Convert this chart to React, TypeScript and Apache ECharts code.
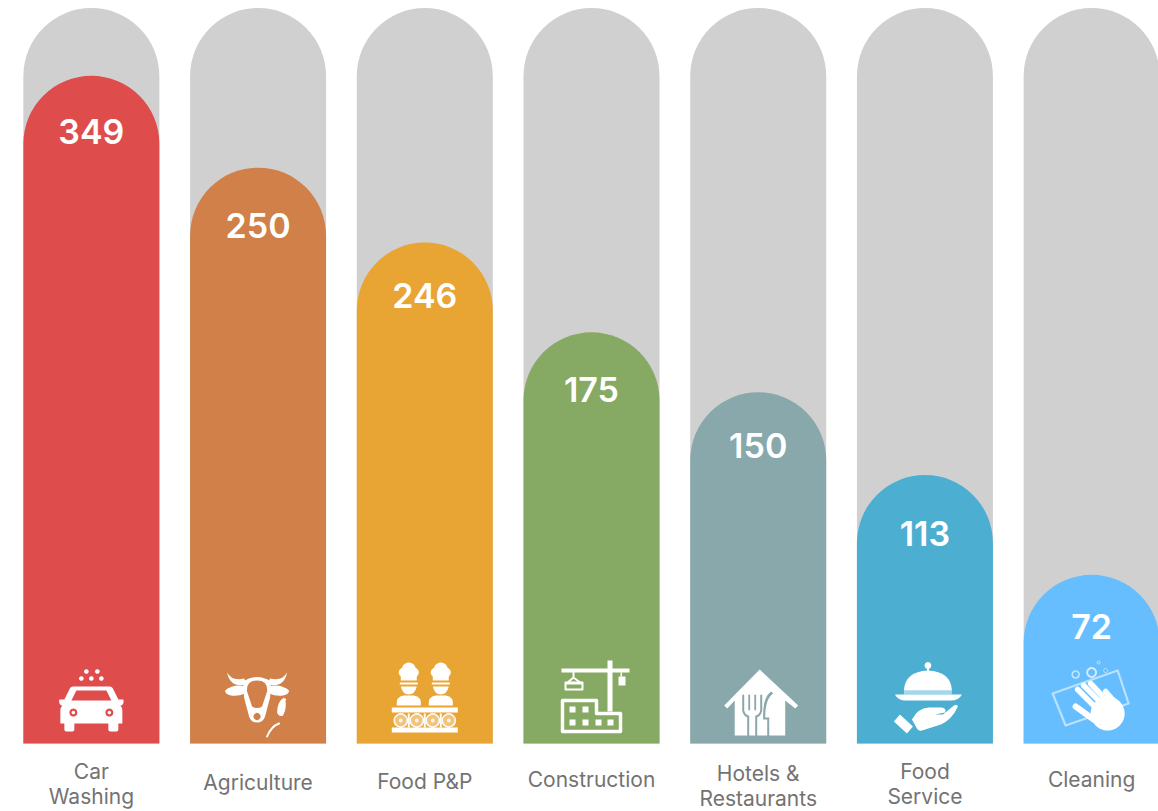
import React, { useEffect, useRef } from "react";
import * as echarts from "echarts";

const categories = ["Car\nWashing", "Agriculture", "Food P&P", "Construction", "Hotels &\nRestaurants", "Food\nService", "Cleaning"];
const displayValues = [349, 250, 246, 175, 150, 113, 72];
// Bar heights (the source is not to scale with its labels)
const barLevels = [669, 577, 502, 412, 352, 269, 169];
const trackLevels = [737, 737, 737, 737, 737, 737, 737];
const colors = ["#DE4C4C", "#D08048", "#E9A533", "#86A963", "#88A8AC", "#4CAFD2", "#66BEFF"];
const labelDistances = [39, 41, 36, 40, 36, 41, 35];
const categoryPaddings = [0, 11, 10, 8, 2, 0, 8];

const W = "#FFFFFF";
const fillP = (d: string, fill = W, opacity = 1) => ({ type: "path", shape: { pathData: d }, style: { fill, opacity } });
const lineP = (d: string, stroke = W, lineWidth = 3, opacity = 1) => ({
  type: "path", shape: { pathData: d }, style: { fill: "none", stroke, lineWidth, opacity, lineCap: "round", lineJoin: "round" },
});
const dot = (cx: number, cy: number, r: number, fill = W, opacity = 1) => ({ type: "circle", shape: { cx, cy, r }, style: { fill, opacity } });
const ringC = (cx: number, cy: number, r: number, lineWidth = 2, opacity = 1) => ({
  type: "circle", shape: { cx, cy, r }, style: { fill: "none", stroke: W, lineWidth, opacity },
});
const box = (x: number, y: number, width: number, height: number, fill = W, opacity = 1) => ({
  type: "rect", shape: { x, y, width, height }, style: { fill, opacity },
});

const icons: ((c: string) => any[])[] = [
  // car
  (c) => [
    fillP("M-18,-57 L18,-57 Q21,-57 22,-54 L27,-44 L32,-44 Q33,-40 30,-38 L29,-38 Q31,-36 31,-33 L31,-20 L27,-20 L27,-14 Q27,-12 25,-12 L19,-12 Q17,-12 17,-14 L17,-20 L-17,-20 L-17,-14 Q-17,-12 -19,-12 L-25,-12 Q-27,-12 -27,-14 L-27,-20 L-31,-20 L-31,-33 Q-31,-36 -29,-38 L-30,-38 Q-33,-40 -32,-44 L-27,-44 L-22,-54 Q-21,-57 -18,-57 Z"),
    fillP("M-15,-53 L15,-53 L20,-43 L-20,-43 Z", c),
    dot(-18, -31, 4, c),
    dot(18, -31, 4, c),
    dot(-18, -31, 1.8),
    dot(18, -31, 1.8),
    dot(-5, -72, 2.3), dot(6, -72, 2.3), dot(-10, -65, 2.3), dot(0, -65, 2.3), dot(10, -65, 2.3),
  ],
  // cow and wheat
  (c) => [
    fillP("M-31,-71 Q-26,-62 -14,-65 L-11,-59 Q-28,-55 -31,-71 Z"),
    fillP("M29,-71 Q24,-62 12,-65 L9,-59 Q26,-55 29,-71 Z"),
    fillP("M-33,-53 Q-24,-60 -13,-57 L-13,-50 Q-20,-47 -27,-48 Q-33,-49 -33,-53 Z"),
    fillP("M31,-53 Q22,-60 11,-57 L11,-50 Q18,-47 25,-48 Q31,-49 31,-53 Z"),
    fillP("M-15,-62 Q-1,-71 13,-62 L12,-46 L7,-27 Q5,-21 -1,-21 Q-7,-21 -9,-27 L-14,-46 Z"),
    fillP("M-1,-63 Q10,-63 9,-52 L4,-37 Q-1,-34 -6,-37 L-11,-52 Q-12,-63 -1,-63 Z", c),
    dot(-1, -27, 3.6, c),
    lineP("M22,-32 Q23,-40 27,-44", W, 2),
    fillP("M19,-31 Q19,-42 26,-46 Q30,-38 25,-28 Q21,-26 19,-31 Z"),
    lineP("M21,-20 Q13,-17 9,-7", W, 2),
  ],
  // food processing workers
  (c) => {
    const worker = (x: number) => [
      dot(x, -74, 7), dot(x - 5, -71, 5), dot(x + 5, -71, 5),
      box(x - 8, -69, 16, 6),
      box(x - 9, -61, 18, 2),
      fillP(`M${x - 8},-57 L${x + 8},-57 Q${x + 6},-49 ${x},-49 Q${x - 6},-49 ${x - 8},-57 Z`),
      fillP(`M${x - 12},-38 Q${x - 13},-47 ${x - 5},-48 L${x + 5},-48 Q${x + 13},-47 ${x + 12},-38 Z`),
    ];
    const wheel = (x: number) => [dot(x, -23, 6.5, W, 0.35), ringC(x, -23, 6.5, 1.6, 0.9), dot(x, -23, 2, W, 0.8)];
    return [
      ...worker(-16), ...worker(16),
      box(-33, -36, 66, 5), box(-33, -16, 66, 5),
      ...[-24, -8, 8, 24].flatMap(wheel),
      box(-17, -30, 2, 14), box(-1, -30, 2, 14), box(15, -30, 2, 14),
    ];
  },
  // crane and building
  (c) => [
    box(16, -83, 5, 51),
    box(-30, -75, 68, 4),
    box(29, -71, 1.6, 4),
    box(27, -67, 7, 9),
    lineP("M-18,-71 L-18,-66 L-25,-60 L-10,-60 L-18,-66", W, 2),
    lineP("M-26,-61 L-9,-61 L-9,-54 L-26,-54 Z", W, 2),
    lineP("M-29,-12 L-29,-43 L5,-43 L5,-30 L29,-30 L29,-12 Z", W, 3.5),
    box(-22, -37, 6, 6), box(-9, -37, 6, 6),
    box(-22, -24, 6, 6), box(-9, -24, 6, 6), box(4, -24, 6, 6), box(16, -24, 6, 6),
  ],
  // house with fork and knife
  (c) => [
    fillP("M1.5,-74 L40,-38 L37,-35 L27,-43 L27,-8 L-23.5,-8 L-23.5,-43 L-31,-35 L-34,-38 Z"),
    lineP("M-15,-48 L-15,-33 Q-14,-28 -10,-27 L-10,-7", c, 2),
    lineP("M3,-48 L3,-33 Q2,-28 -2,-27 L-2,-7", c, 2),
    lineP("M-9,-48 L-9,-34", c, 1.8),
    lineP("M-3,-48 L-3,-34", c, 1.8),
    fillP("M15,-50 Q7,-45 7,-26 L11,-26 L11,-7 L9,-7 L9,-24 L5,-24 Q4,-46 13,-52 Z", c),
  ],
  // cloche and hand
  (c) => [
    dot(3, -78, 3.4),
    box(2, -76, 2, 4),
    fillP("M-21,-53 Q-20,-72 3,-73 Q26,-72 27,-53 Z"),
    box(-21, -53, 48, 4, W, 0.5),
    fillP("M-30,-49 L37,-49 Q34,-43 26,-43 L-19,-43 Q-27,-43 -30,-49 Z"),
    fillP("M-13,-24 Q-6,-37 6,-36 L17,-36 Q22,-35 20,-31 L10,-29 L18,-29 L29,-38 Q32,-40 33,-37 Q27,-24 16,-19 L-3,-13 Q-6,-12 -8,-15 Z"),
    fillP("M-31,-22 L-25,-29 L-12,-17 L-18,-10 Z"),
  ],
  // hand washing
  (c) => [
    lineP("M-39,-50 L26,-73 L37,-40 L-26,-18 Z", W, 2.2, 0.55),
    ringC(-16, -69, 3.5, 1.6, 0.6),
    ringC(0, -71, 4.5, 1.8, 0.75),
    ringC(7, -81, 1.5, 1, 0.6),
    ringC(14, -73, 2, 1, 0.5),
    dot(16, -30, 17),
    lineP("M-14,-54 L4,-36", W, 5.5),
    lineP("M-8,-58 L10,-40", W, 5.5),
    lineP("M-1,-60 L14,-44", W, 5.5),
    lineP("M14,-52 L26,-38", W, 5.5),
    lineP("M-16,-37 L2,-24", W, 6),
  ],
];

function renderIcon(params: any, api: any) {
  const i = params.dataIndex;
  const [x, y] = api.coord([api.value(0), 0]);
  return { type: "group", x, y, silent: true, children: icons[i](colors[i]) };
}

export default function App() {
  const ref = useRef<HTMLDivElement>(null);
  useEffect(() => {
    document.documentElement.style.overflow = "hidden";
    document.body.style.margin = "0";
    document.body.style.overflow = "hidden";
    const chart = echarts.init(ref.current!, null, { renderer: "svg" });
    chart.setOption({
      animation: false,
      backgroundColor: "#FFFFFF",
      grid: { left: 8, top: 8, width: 1167, height: 737, containLabel: false },
      xAxis: {
        type: "category",
        data: categories.map((value, i) => ({ value, textStyle: { padding: [categoryPaddings[i], 0, 0, 0] } })),
        axisLine: { show: false },
        axisTick: { show: false },
        axisLabel: {
          interval: 0,
          margin: 15.5,
          color: "#737373",
          fontFamily: "Inter",
          fontSize: 21,
          lineHeight: 25,
          verticalAlign: "top",
        },
      },
      yAxis: { type: "value", min: 0, max: 737, show: false, splitLine: { show: false } },
      series: [
        {
          type: "bar",
          data: trackLevels,
          barWidth: 136,
          barGap: "-100%",
          silent: true,
          itemStyle: { color: "#D0D0D0", borderRadius: [68, 68, 0, 0] },
        },
        {
          type: "bar",
          barWidth: 136,
          barGap: "-100%",
          silent: true,
          data: barLevels.map((value, i) => ({
            value,
            itemStyle: { color: colors[i], borderRadius: [68, 68, 0, 0] },
            label: { distance: labelDistances[i] },
          })),
          label: {
            show: true,
            position: "insideTop",
            formatter: (p: any) => String(displayValues[p.dataIndex]),
            color: "#FFFFFF",
            fontFamily: "Inter",
            fontWeight: 600,
            fontSize: 34,
          },
        },
        {
          type: "custom",
          data: categories.map((_, i) => [i, 0]),
          encode: { x: 0, y: 1 },
          renderItem: renderIcon,
          silent: true,
          clip: false,
          z: 5,
        },
      ],
    });
    return () => chart.dispose();
  }, []);
  return <div ref={ref} style={{ width: 1200, height: 811 }} />;
}
